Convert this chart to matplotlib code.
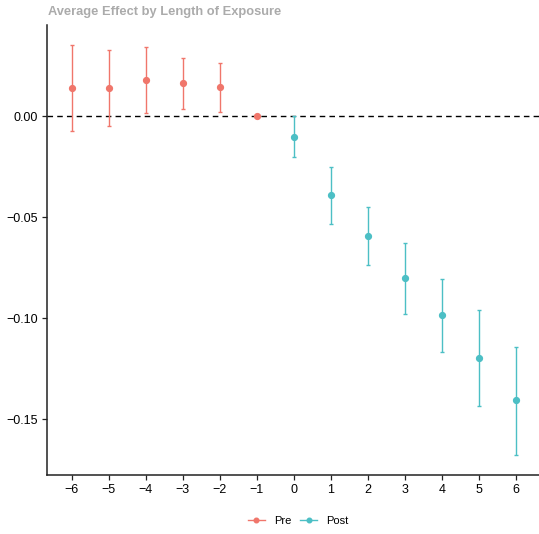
import matplotlib
matplotlib.use("Agg")
import matplotlib.pyplot as plt
from matplotlib.lines import Line2D

plt.rcParams['font.family'] = ['Liberation Sans', 'DejaVu Sans']

periods = [-6, -5, -4, -3, -2, -1, 0, 1, 2, 3, 4, 5, 6]
estimate = [0.0139, 0.0139, 0.0178, 0.0163, 0.0144, 0.0,
            -0.0104, -0.0391, -0.0594, -0.0802, -0.0985, -0.1198, -0.1406]
ci_low = [-0.0074, -0.0050, 0.0015, 0.0035, 0.0020, 0.0,
          -0.0203, -0.0535, -0.0738, -0.0980, -0.1168, -0.1436, -0.1678]
ci_high = [0.0351, 0.0327, 0.0342, 0.0287, 0.0262, 0.0,
           0.0, -0.0252, -0.0450, -0.0629, -0.0807, -0.0960, -0.1144]
groups = ["Pre"] * 6 + ["Post"] * 7
colors = {"Pre": "#F0766B", "Post": "#4CBFC5"}
title = "Average Effect by Length of Exposure"
yticks = [0.00, -0.05, -0.10, -0.15]
ytick_labels = ["0.00", "\u22120.05", "\u22120.10", "\u22120.15"]
xtick_labels = [("\u2212" + str(-p)) if p < 0 else str(p) for p in periods]

fig = plt.figure(figsize=(5.39, 5.34), dpi=100)
ax = fig.add_axes([47 / 539, 1 - 475.4 / 534, (539 - 47) / 539, (475.4 - 24.7) / 534])

ax.axhline(0, color="black", lw=1.0, ls=(0, (4, 3)), zorder=1)

for g in ["Pre", "Post"]:
    xs = [p for p, gg in zip(periods, groups) if gg == g]
    ys = [e for e, gg in zip(estimate, groups) if gg == g]
    lo = [e - l for e, l, gg in zip(estimate, ci_low, groups) if gg == g]
    hi = [h - e for e, h, gg in zip(estimate, ci_high, groups) if gg == g]
    ax.errorbar(xs, ys, yerr=[lo, hi], fmt="o", color=colors[g], ms=4.2,
                elinewidth=1.0, capsize=1.6, capthick=1.0, zorder=3)

ax.set_xlim(-6.668, 6.63)
ax.set_ylim(-0.1779, 0.0452)
ax.set_xticks(periods)
ax.set_xticklabels(xtick_labels)
ax.set_yticks(yticks)
ax.set_yticklabels(ytick_labels)
for s in ["top", "right"]:
    ax.spines[s].set_visible(False)
for s in ["left", "bottom"]:
    ax.spines[s].set_linewidth(1.1)
    ax.spines[s].set_color("#222222")
ax.tick_params(axis="both", length=3.5, width=0.9, colors="#222222",
               labelsize=9, labelcolor="black", pad=3)

fig.text(48 / 539, 1 - 11.7 / 534, title, fontsize=9.3, fontweight="bold",
         color="#ABABAB", ha="left", va="center")

handles = [Line2D([0], [0], color=colors[g], marker="o", ms=3.3, lw=1.0) for g in ["Pre", "Post"]]
fig.legend(handles, ["Pre", "Post"], loc="center", bbox_to_anchor=(298 / 539, 1 - 521 / 534),
           ncol=2, frameon=False, fontsize=8, handlelength=1.55, columnspacing=0.8,
           handletextpad=0.8)

fig.savefig("out.png", dpi=100)
